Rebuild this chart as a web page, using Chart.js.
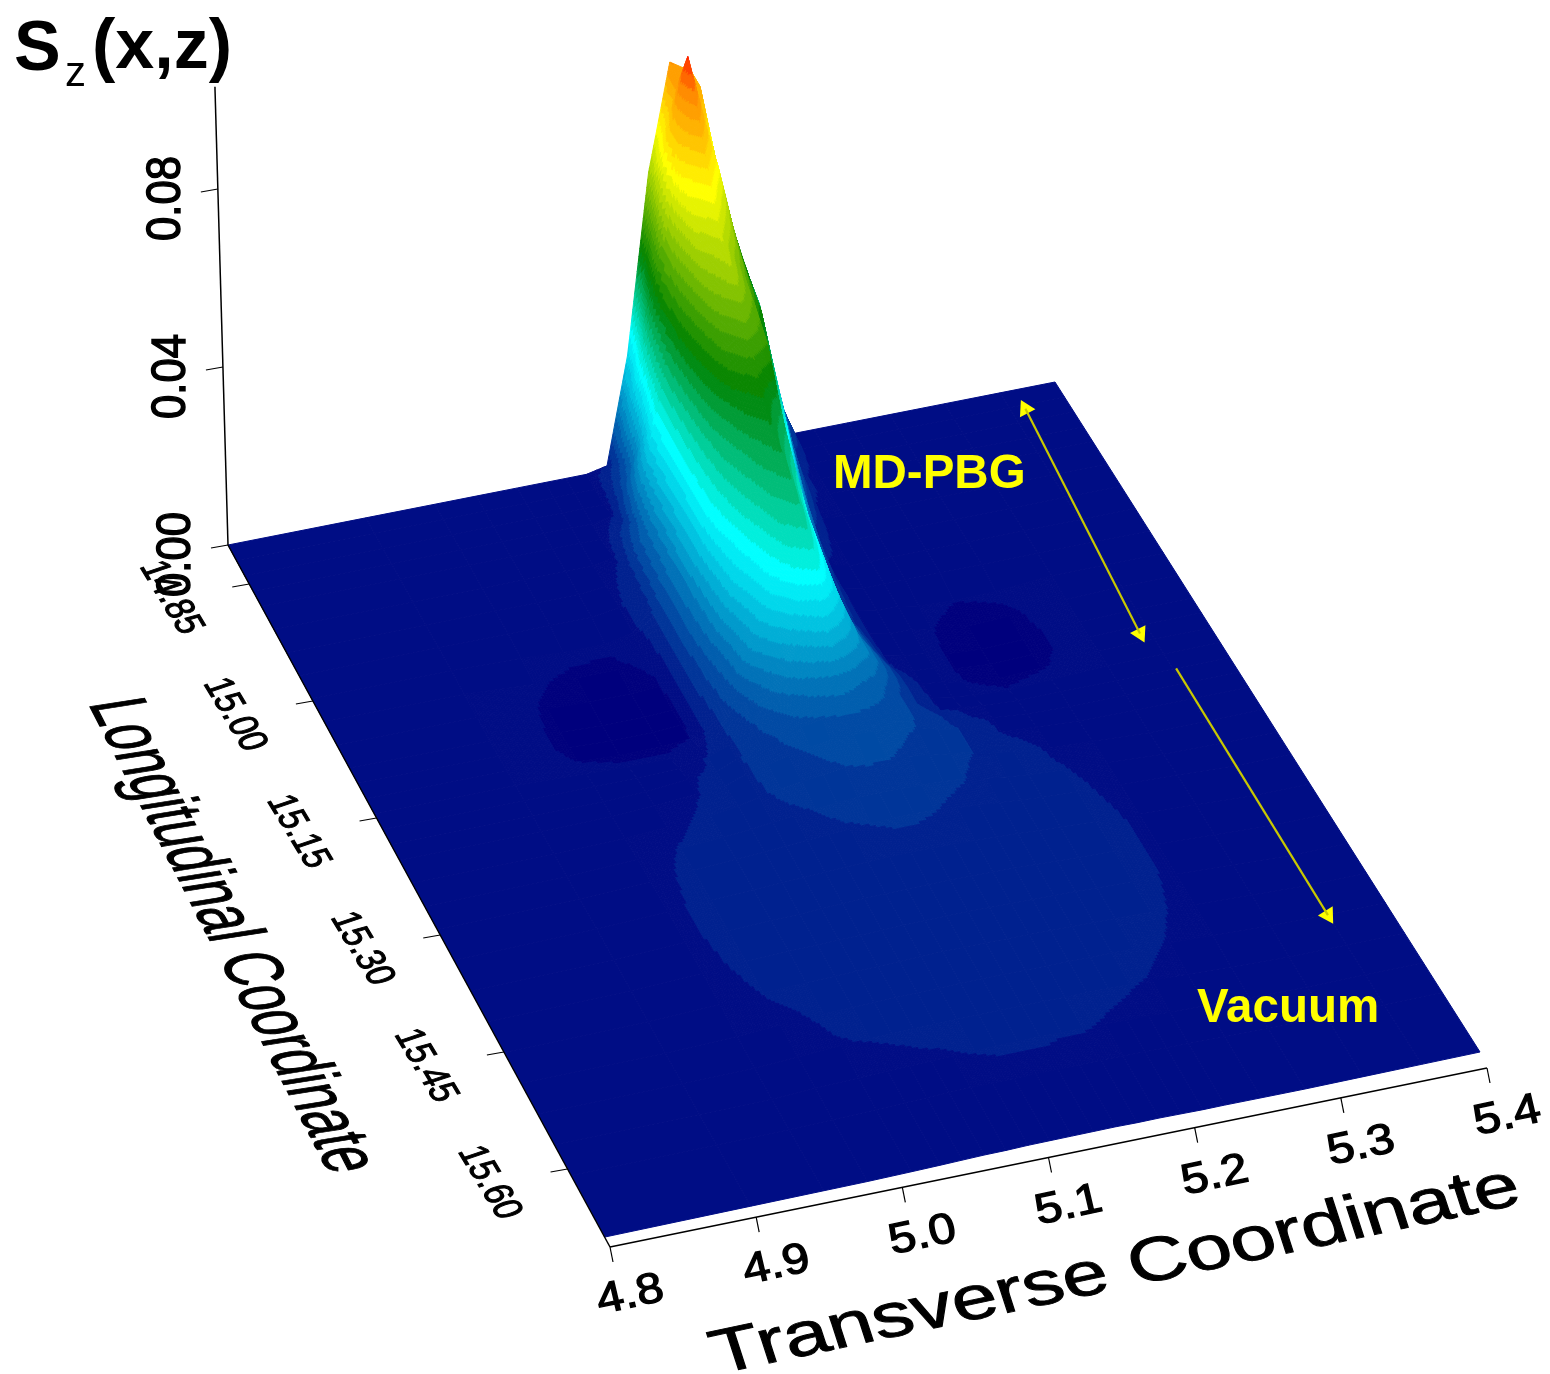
<!DOCTYPE html>
<html>
<head>
<meta charset="utf-8">
<title>Sz(x,z)</title>
<script src="https://cdn.jsdelivr.net/npm/chart.js@4/dist/chart.umd.js"></script>
<style>
  html, body { margin: 0; background: #fff; }
  canvas { display: block; }
</style>
</head>
<body>
<canvas id="surfaceChart" width="1550" height="1374"></canvas>
<script>
// tick labels
const transverseTicks = [4.8, 4.9, 5.0, 5.1, 5.2, 5.3, 5.4];
const longitudinalTicks = [14.85, 15.0, 15.15, 15.3, 15.45, 15.6];
const szTicks = [0, 0.04, 0.08];

// sample positions
const xCols = [4.8, 4.9, 4.95, 4.98, 5.01, 5.03, 5.045, 5.06, 5.075, 5.09, 5.105, 5.12, 5.135, 5.15, 5.165, 5.18, 5.195, 5.21, 5.225, 5.25, 5.28, 5.32, 5.36, 5.4];
const zRows = [14.8, 14.82, 14.84, 14.86, 14.88, 14.91, 14.94, 14.97, 15.0, 15.03, 15.06, 15.09, 15.11, 15.13, 15.15, 15.17, 15.19, 15.21, 15.24, 15.27, 15.3, 15.34, 15.38, 15.42, 15.46, 15.5, 15.54, 15.58, 15.62, 15.7];

// Sz, one line per zRows entry, one value per xCols entry
const szValues = [
  [0,0,0,0,0,0,0,0,.001,.025,.065,.089,.086,.068,.048,.03,.012,0,0,0,0,0,0,0],
  [0,0,0,0,0,0,0,0,.005,.03,.072,.088,.086,.063,.045,.028,.01,0,0,0,0,0,0,0],
  [0,0,0,0,0,0,0,0,.008,.04,.078,.097,.078,.059,.043,.025,.005,0,0,0,0,0,0,0],
  [0,0,0,0,0,0,0,.001,.012,.047,.08,.088,.075,.055,.042,.021,.002,0,0,0,0,0,0,0],
  [0,0,0,0,0,0,0,.003,.02,.05,.074,.08,.068,.052,.036,.013,.002,0,0,0,0,0,0,0],
  [0,0,0,0,0,0,.001,.008,.03,.05,.066,.07,.061,.05,.028,.008,.0005,0,0,0,0,0,0,0],
  [0,0,0,0,0,.0005,.002,.012,.03,.047,.06,.066,.058,.041,.02,.0035,0,0,0,0,0,0,0,0],
  [0,0,0,0,0,.001,.003,.013,.03,.044,.054,.058,.054,.03,.014,.001,0,0,0,0,0,0,0,0],
  [0,0,-.0003,-.0009,-.001,.0004,.004,.014,.03,.041,.047,.05,.044,.022,.008,.001,0,0,0,0,0,0,0,0],
  [0,-.0001,-.0011,-.0015,-.0015,-.001,.004,.014,.03,.038,.043,.046,.037,.017,.006,.001,0,0,-.0008,-.0012,-.0010,0,0,0],
  [0,-.0002,-.0014,-.0018,-.0018,-.0014,.004,.013,.027,.035,.04,.043,.031,.014,.005,.001,0,0,-.0012,-.0018,-.0015,-.0003,0,0],
  [0,-.0003,-.0015,-.002,-.002,-.0016,.004,.012,.024,.031,.037,.039,.028,.0135,.0065,.001,0,-.0002,-.0014,-.002,-.0017,-.0004,0,0],
  [0,-.0003,-.0015,-.002,-.002,-.0016,.004,.01,.02,.029,.034,.036,.026,.013,.007,.0015,0,-.0002,-.0014,-.002,-.0017,-.0004,0,0],
  [0,-.0002,-.0013,-.0018,-.0018,-.0013,.0035,.009,.018,.025,.03,.032,.024,.014,.008,.003,.0005,0,-.0012,-.0018,-.0014,-.0002,0,0],
  [0,0,-.0005,-.001,-.001,.0002,.0035,.007,.012,.017,.021,.024,.019,.014,.008,.0035,.0008,0,-.0006,-.0011,-.0006,0,0,0],
  [0,0,0,0,.0002,.0014,.0032,.0055,.0085,.011,.0125,.014,.012,.01,.0065,.0035,.0012,.001,.0005,0,0,0,0,0],
  [0,0,0,.0003,.0011,.0015,.0035,.005,.0065,.0078,.0085,.009,.0088,.008,.0065,.0048,.003,.0014,.0011,.0004,0,0,0,0],
  [0,0,.0001,.0005,.0012,.0018,.0035,.0046,.0058,.0066,.0072,.0075,.0074,.0069,.0062,.0048,.0038,.002,.0012,.0008,.0002,0,0,0],
  [0,0,.0003,.0009,.0015,.0024,.0034,.0042,.0049,.0056,.0062,.0065,.0064,.0058,.005,.0044,.0038,.0028,.0017,.0011,.0007,0,0,0],
  [0,.0001,.0008,.0013,.0018,.0023,.0029,.0034,.0038,.0043,.0046,.0047,.0046,.0044,.0042,.0038,.003,.0023,.0018,.0013,.0009,.0002,0,0],
  [0,.0003,.0009,.0015,.002,.0023,.0027,.003,.0033,.0036,.0038,.004,.004,.0038,.0034,.003,.0026,.0022,.0018,.0014,.001,.0006,0,0],
  [0,.0004,.001,.0016,.002,.0022,.0024,.0026,.0028,.003,.0031,.0032,.0031,.003,.0028,.0026,.0024,.0021,.0019,.0015,.0011,.0006,0,0],
  [0,.0004,.001,.0016,.0019,.002,.0022,.0024,.0025,.0026,.0027,.0027,.0027,.0026,.0025,.0024,.0022,.002,.0018,.0016,.0011,.0006,0,0],
  [0,.0003,.0009,.0015,.0018,.0019,.002,.0021,.0022,.0023,.0024,.0024,.0024,.0023,.0022,.0021,.002,.0019,.0017,.0015,.0011,.0006,0,0],
  [0,.0002,.0007,.0013,.0016,.0017,.0018,.0019,.002,.0021,.0022,.0022,.0022,.0021,.002,.0019,.0018,.0017,.0016,.0014,.001,.0005,0,0],
  [0,0,.0004,.001,.0014,.0015,.0016,.0017,.0018,.0018,.0019,.0019,.0019,.0018,.0018,.0017,.0016,.0016,.0015,.0012,.0008,.0003,0,0],
  [0,0,.0001,.0006,.0012,.0013,.0014,.0015,.0015,.0016,.0016,.0016,.0016,.0016,.0015,.0015,.0014,.0013,.0012,.0009,.0005,0,0,0],
  [0,0,0,.0004,.0007,.0009,.001,.0011,.0012,.0013,.0014,.0014,.0014,.0013,.0013,.0012,.0011,.001,.0008,.0006,.0003,0,0,0],
  [0,0,0,.0002,.0004,.0006,.0007,.0008,.0009,.0009,.0009,.0009,.0009,.0009,.0009,.0008,.0007,.0006,.0005,.0003,.0001,0,0,0],
  [0,0,0,0,.0001,.0002,.0003,.0004,.0004,.0005,.0005,.0005,.0005,.0005,.0004,.0004,.0003,.0002,.0002,.0001,0,0,0,0]
];

// colour table for the banded surface: [Sz, r, g, b]
const colorStops = [
  [-0.0025, 0, 0, 125], [0, 0, 13, 133], [0.03, 0, 255, 255], [0.049, 0, 130, 0],
  [0.075, 255, 255, 0], [0.09, 255, 140, 0], [0.1, 255, 0, 0]
];
const bandStep = 0.0025;

// view of the box: plane corners on the page and px per unit of Sz
const xRange = [4.8, 5.4], zRange = [14.8, 15.7];
const cornerBackLeft = [228, 545], cornerBackRight = [1055, 382];
const cornerFrontRight = [1480, 1052], cornerFrontLeft = [605, 1237];
const szPerUnit = 4450, szLean = 0.0285;

function project(x, z, s) {
  const u = (x - xRange[0]) / (xRange[1] - xRange[0]);
  const v = (z - zRange[0]) / (zRange[1] - zRange[0]);
  const px = cornerBackLeft[0] * (1 - u) * (1 - v) + cornerBackRight[0] * u * (1 - v) + cornerFrontRight[0] * u * v + cornerFrontLeft[0] * (1 - u) * v;
  const py = cornerBackLeft[1] * (1 - u) * (1 - v) + cornerBackRight[1] * u * (1 - v) + cornerFrontRight[1] * u * v + cornerFrontLeft[1] * (1 - u) * v;
  return { x: px - s * szPerUnit * szLean * (1 - 2 * u), y: py - s * szPerUnit };
}

// axes sit just outside the plane
function axisPoint(x, z) {
  const u = (x - xRange[0]) / (xRange[1] - xRange[0]);
  const v = (z - zRange[0]) / (zRange[1] - zRange[0]);
  const p = project(x, z, 0);
  return { x: p.x + v * 5 + u * v * 2, y: p.y + v * 10 + u * v * 6 };
}

function bandColor(s) {
  const level = Math.round(s / bandStep) * bandStep;
  if (level <= colorStops[0][0]) return `rgb(${colorStops[0].slice(1).join(",")})`;
  for (let i = 1; i < colorStops.length; i++) {
    if (level <= colorStops[i][0]) {
      const a = colorStops[i - 1], b = colorStops[i];
      const t = (level - a[0]) / (b[0] - a[0]);
      const c = [1, 2, 3].map(k => Math.round(a[k] + (b[k] - a[k]) * t));
      return `rgb(${c.join(",")})`;
    }
  }
  return "rgb(255,0,0)";
}

const surfacePoints = [];
zRows.forEach((z, iz) => {
  xCols.forEach((x, ix) => {
    const p = project(x, z, szValues[iz][ix]);
    surfacePoints.push({ x: p.x, y: p.y, s: szValues[iz][ix] });
  });
});

function lineSet(a, b, color, width) {
  return { data: [a, b], showLine: true, borderColor: color, borderWidth: width, pointRadius: 0 };
}

const axisSets = [];
axisSets.push(lineSet(project(4.8, 14.8, 0), project(4.8, 14.8, 0.103), "#000", 1.5));
axisSets.push(lineSet(axisPoint(4.8, 14.8), axisPoint(4.8, 15.7), "#000", 1.5));
axisSets.push(lineSet(axisPoint(4.8, 15.7), axisPoint(5.4, 15.7), "#000", 1.5));
szTicks.forEach(s => {
  const p = project(4.8, 14.8, s);
  axisSets.push(lineSet(p, { x: p.x - 17, y: p.y + 3 }, "#000", 1.2));
});
longitudinalTicks.forEach(z => {
  const p = axisPoint(4.8, z);
  axisSets.push(lineSet(p, { x: p.x - 17, y: p.y + 3 }, "#000", 1.2));
});
transverseTicks.forEach(x => {
  const p = axisPoint(x, 15.7);
  axisSets.push(lineSet(p, { x: p.x + 3, y: p.y + 15 }, "#000", 1.2));
});

// the two region arrows lie on the plane
const pbgFrom = project(5.37, 14.825, 0), pbgTo = project(5.353, 15.12, 0);
const vacFrom = project(5.362, 15.17, 0), vacTo = project(5.36, 15.5, 0);
const arrowColor = "#c8c800";
function headSet(tip, from) {
  const deg = Math.atan2(tip.x - from.x, from.y - tip.y) * 180 / Math.PI;
  return { data: [tip], pointStyle: "triangle", pointRadius: 10, pointRotation: deg, backgroundColor: "#ffff00", borderColor: "#ffff00", borderWidth: 0 };
}
const arrowSets = [
  lineSet(pbgFrom, pbgTo, arrowColor, 2.2), lineSet(vacFrom, vacTo, arrowColor, 2.2),
  headSet(pbgFrom, pbgTo), headSet(pbgTo, pbgFrom), headSet(vacTo, vacFrom)
];

// fills the mesh of dataset 0, far cells first
const surfacePlugin = {
  id: "surfaceMesh",
  beforeDatasetsDraw(chart) {
    const ctx = chart.ctx;
    const pts = chart.getDatasetMeta(0).data;
    const values = chart.data.datasets[0].data;
    const nx = xCols.length;
    ctx.save();
    ctx.lineWidth = 1;
    ctx.lineJoin = "round";
    for (let iz = 0; iz < zRows.length - 1; iz++) {
      for (let ix = nx - 2; ix >= 0; ix--) {
        const i00 = iz * nx + ix, i10 = i00 + 1, i01 = i00 + nx, i11 = i01 + 1;
        const corners = [pts[i00], pts[i10], pts[i11], pts[i01]];
        const sv = [values[i00].s, values[i10].s, values[i11].s, values[i01].s];
        const levels = sv.map(s => Math.round(s / bandStep));
        if (levels.every(l => l === levels[0])) {
          fillQuad(ctx, corners, bandColor(sv[0]));
          continue;
        }
        // shade inside the cell: split it so the bands run across it
        const w = Math.max(Math.hypot(corners[1].x - corners[0].x, corners[1].y - corners[0].y), Math.hypot(corners[2].x - corners[3].x, corners[2].y - corners[3].y));
        const h = Math.max(Math.hypot(corners[3].x - corners[0].x, corners[3].y - corners[0].y), Math.hypot(corners[2].x - corners[1].x, corners[2].y - corners[1].y));
        const nu = Math.min(24, Math.ceil(w / 3)), nv = Math.min(40, Math.ceil(h / 3));
        const at = (a, b) => {
          const k = [(1 - a) * (1 - b), a * (1 - b), a * b, (1 - a) * b];
          return {
            x: k[0] * corners[0].x + k[1] * corners[1].x + k[2] * corners[2].x + k[3] * corners[3].x,
            y: k[0] * corners[0].y + k[1] * corners[1].y + k[2] * corners[2].y + k[3] * corners[3].y,
            s: k[0] * sv[0] + k[1] * sv[1] + k[2] * sv[2] + k[3] * sv[3]
          };
        };
        for (let b = 0; b < nv; b++) {
          for (let a = nu - 1; a >= 0; a--) {
            const q = [at(a / nu, b / nv), at((a + 1) / nu, b / nv), at((a + 1) / nu, (b + 1) / nv), at(a / nu, (b + 1) / nv)];
            fillQuad(ctx, q, bandColor((q[0].s + q[1].s + q[2].s + q[3].s) / 4));
          }
        }
      }
    }
    ctx.restore();
  },
  afterDatasetsDraw(chart) {
    const ctx = chart.ctx;
    ctx.save();
    ctx.textBaseline = "alphabetic";
    ctx.fillStyle = "#000";
    ctx.strokeStyle = "#000";

    // Sz axis labels read upwards
    szTicks.forEach(s => {
      const p = project(4.8, 14.8, s);
      slantText(ctx, s.toFixed(2), p.x - 38, p.y + 52, p.x - 38, p.y - 33, -35, 0, 3);
    });
    longitudinalTicks.forEach(z => {
      const p = axisPoint(4.8, z);
      slantText(ctx, z.toFixed(2), p.x - 110, p.y - 18, p.x - 68, p.y + 52, 27, -9, 3);
    });
    transverseTicks.forEach(x => {
      const p = axisPoint(x, 15.7);
      slantText(ctx, x.toFixed(1), p.x - 10, p.y + 67, p.x + 56, p.y + 53, -7, -30, 3);
    });
    slantText(ctx, "Transverse Coordinate", 718, 1374, 1524, 1203, -14, -43, 1.5);
    slantText(ctx, "Longitudinal Coordinate", 88, 703, 330, 1175, 57, -9, 1.5);

    ctx.font = "bold 70px 'Liberation Sans'";
    ctx.fillText("S", 14, 70);
    ctx.fillText("(x,z)", 92, 68);
    ctx.font = "42px 'Liberation Sans'";
    ctx.fillText("z", 65, 86);

    ctx.fillStyle = "#ffff00";
    ctx.font = "bold 47.5px 'Liberation Sans'";
    ctx.fillText("MD-PBG", 833, 488);
    ctx.fillText("Vacuum", 1197, 1022);
    ctx.restore();
  }
};

function fillQuad(ctx, q, color) {
  ctx.fillStyle = color;
  ctx.strokeStyle = color;
  ctx.beginPath();
  ctx.moveTo(q[0].x, q[0].y);
  ctx.lineTo(q[1].x, q[1].y);
  ctx.lineTo(q[2].x, q[2].y);
  ctx.lineTo(q[3].x, q[3].y);
  ctx.closePath();
  ctx.fill();
  ctx.stroke();
}

// text laid on the box: baseline from (sx,sy) to (ex,ey), capital letters reach (ux,uy)
function slantText(ctx, text, sx, sy, ex, ey, ux, uy, weight) {
  ctx.save();
  ctx.font = "100px 'Liberation Sans'";
  const w = ctx.measureText(text).width;
  ctx.transform((ex - sx) / w, (ey - sy) / w, -ux / 72, -uy / 72, sx, sy);
  ctx.lineWidth = weight;
  ctx.fillText(text, 0, 0);
  ctx.strokeText(text, 0, 0);
  ctx.restore();
}

new Chart(document.getElementById("surfaceChart"), {
  type: "scatter",
  data: {
    datasets: [{ label: "Sz", data: surfacePoints, pointRadius: 0, pointHoverRadius: 0 }].concat(axisSets, arrowSets)
  },
  options: {
    responsive: false,
    animation: false,
    layout: { padding: 0, autoPadding: false },
    events: [],
    scales: {
      x: { type: "linear", min: 0, max: 1550, display: false },
      y: { type: "linear", min: 0, max: 1374, reverse: true, display: false }
    },
    plugins: { legend: { display: false }, title: { display: false }, tooltip: { enabled: false } }
  },
  plugins: [surfacePlugin]
});
</script>
</body>
</html>
